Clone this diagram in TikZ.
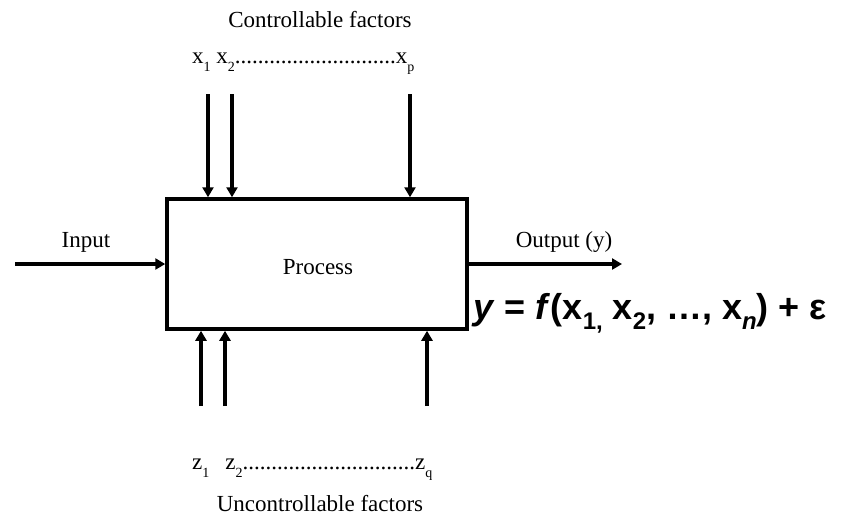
\documentclass[tikz,border=0pt]{standalone}
\usepackage{fontspec}
\setmainfont{Liberation Serif}
\newfontfamily\eqfont{Liberation Sans}
\usetikzlibrary{arrows.meta}
\newcommand\lsub[1]{\raisebox{-0.35em}{\fontsize{14pt}{14pt}\selectfont #1}}
\newcommand\esub[1]{\raisebox{-0.3em}{\fontsize{24pt}{24pt}\selectfont #1}}
\begin{document}
\begin{tikzpicture}[x=1pt,y=-1pt,
  lbl/.style={font=\fontsize{23pt}{25pt}\selectfont, inner sep=0pt},
  arr/.style={line width=3.5pt, -{Triangle[length=10pt,width=11pt]}}]
\useasboundingbox (0,0) rectangle (862,520);
\node[draw, line width=3.5pt, minimum width=300pt, minimum height=130pt, inner sep=0pt] (proc) at (317,264) {};
\node[lbl] (ptext) at (318,267) {Process};
\node[lbl] (ctitle) at (320,20) {Controllable factors};
\node[lbl, anchor=base west] (xs) at (192,63) {x\lsub{1} x\lsub{2}............................x\lsub{p}};
\node[lbl, anchor=base west] (zs) at (192,469) {z\lsub{1}\hspace{16pt}z\lsub{2}..............................z\lsub{q}};
\node[lbl] (utitle) at (320,504) {Uncontrollable factors};
\node[lbl] (inlbl) at (86,242) {Input};
\node[lbl] (outlbl) at (564,242) {Output (y)};
\node[inner sep=0pt, anchor=base west, font=\eqfont\bfseries\fontsize{36pt}{38pt}\selectfont] (eq) at (473,319)
  {\textit{y} = \textit{f}(x\esub{1,} x\esub{2}, \dots, x\esub{\textit{n}}) + ε};
\coordinate (t1) at (208,94);
\coordinate (t2) at (232,94);
\coordinate (t3) at (410,94);
\coordinate (b1) at (201,406);
\coordinate (b2) at (225,406);
\coordinate (b3) at (427,406);
\coordinate (inS) at (15,264);
\coordinate (outE) at (622,264);
\foreach \c in {t1,t2,t3} \draw[arr] (\c) -- (\c |- proc.north);
\foreach \c in {b1,b2,b3} \draw[arr] (\c) -- (\c |- proc.south);
\draw[arr] (inS) -- (proc.west);
\draw[arr] (proc.east) -- (outE);
\end{tikzpicture}
\end{document}
